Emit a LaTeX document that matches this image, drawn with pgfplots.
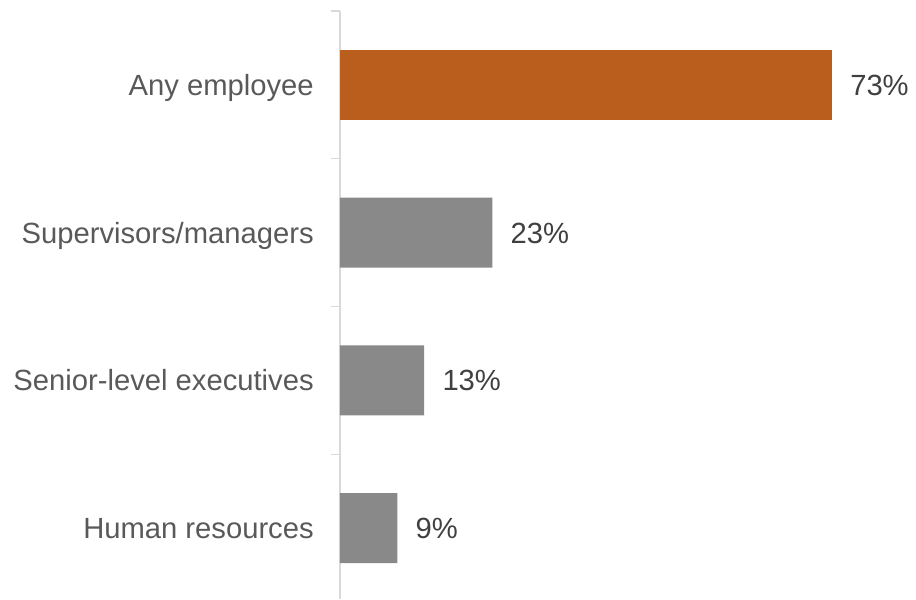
\documentclass[border=0pt]{standalone}
\usepackage{pgfplots}
\pgfplotsset{compat=1.18}
\usepackage{fontspec}
\setmainfont{Liberation Sans}
\definecolor{barorange}{HTML}{BA5E1E}
\definecolor{bargray}{HTML}{898989}
\definecolor{axgray}{HTML}{D9D9D9}
\definecolor{lbl}{HTML}{595959}
\definecolor{val}{HTML}{404040}
\begin{document}
\begin{tikzpicture}
\begin{axis}[
  scale only axis,
  width=369pt, height=441pt,
  xbar, bar width=52.5pt, bar shift=0pt,
  xmin=0, xmax=73,
  ymin=-0.5, ymax=3.48,
  y dir=reverse,
  axis x line=none,
  axis y line*=left,
  axis line style={draw=axgray, line width=1.2pt, -},
  ytick={0,1,2,3},
  yticklabels={Any employee, Supervisors/managers, Senior-level executives, Human resources},
  minor ytick={-0.5,0.5,1.5,2.5},
  major tick length=0pt,
  minor tick length=6.75pt,
  tick align=outside,
  every tick/.style={draw=axgray, line width=1pt},
  minor tick style={draw=axgray, line width=1pt},
  yticklabel style={anchor=base east, inner sep=0pt, xshift=-19.5pt, yshift=-7.9pt, text=lbl, font=\fontsize{21.9pt}{26pt}\selectfont},
  point meta=explicit symbolic,
  nodes near coords={\pgfplotspointmeta\%},
  every node near coord/.append style={anchor=base west, inner sep=0pt, xshift=13.5pt, yshift=-7.9pt, text=val, font=\fontsize{21.9pt}{26pt}\selectfont},
  clip=false,
]
\addplot[draw=none, fill=barorange] coordinates {(73,0) [73]};
\addplot[draw=none, fill=bargray] coordinates {(22.6,1) [23] (12.5,2) [13] (8.5,3) [9]};
\end{axis}
\path ([xshift=-255pt, yshift=8.25pt]current axis.north west) rectangle ([xshift=432pt]current axis.south west);
\end{tikzpicture}
\end{document}
